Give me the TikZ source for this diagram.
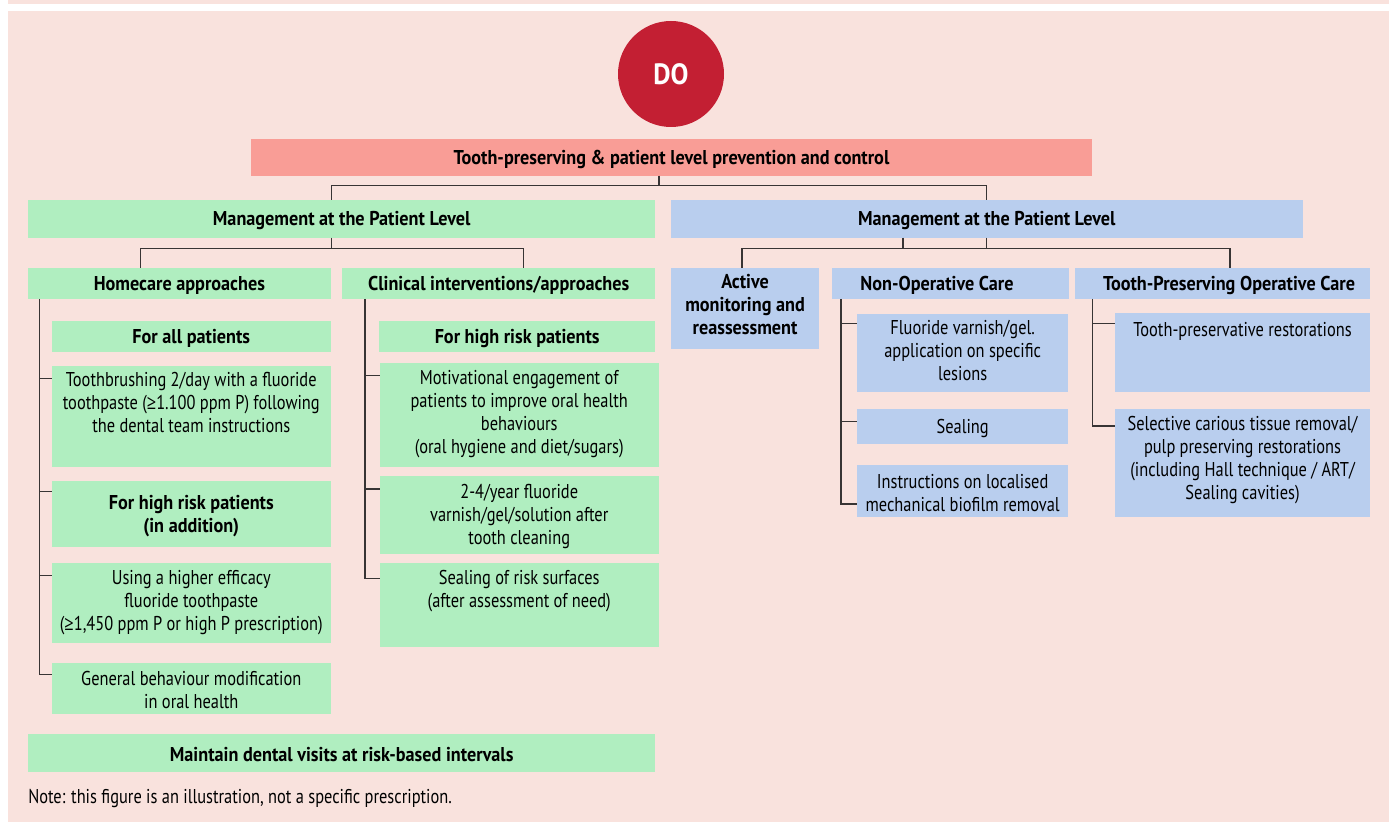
\documentclass[tikz,border=0pt]{standalone}
\usepackage{fontspec}
\setmainfont{PT Sans}[UprightFeatures={FakeStretch=0.82}, BoldFeatures={FakeStretch=0.91}]
\newfontfamily\symfont{Open Sans}[FakeStretch=0.82]
\newcommand{\GE}{{\symfont ≥}}
\usetikzlibrary{calc}
\definecolor{bgpink}{HTML}{F9E2DD}
\definecolor{barpink}{HTML}{F99D96}
\definecolor{dored}{HTML}{C31F33}
\definecolor{grn}{HTML}{B0EEC0}
\definecolor{blu}{HTML}{B9CEEE}
\definecolor{lncol}{HTML}{383434}
\tikzset{
  box/.style={draw=none, inner sep=0pt, outer sep=0pt, anchor=north west},
  gbox/.style={box, fill=grn},
  bbox/.style={box, fill=blu},
  txt/.style={font=\fontsize{15}{17.25}\selectfont, align=center, inner sep=0pt, text=black},
  btxt/.style={txt, font=\fontsize{15}{17.25}\selectfont\bfseries},
  ln/.style={draw=lncol, line width=1.1pt},
}
\newcommand{\bx}[6]{\node[#2, minimum width={(#5-#3)*0.75pt}, minimum height={(#6-#4)*0.75pt}] (#1) at (#3,#4) {};}
\newcommand{\toptxt}[3]{\node[#2, anchor=north, execute at begin node=\strut] (#1t) at ([yshift=-4.8pt]#1.north) {#3};}
\newcommand{\midtxt}[3]{\node[#2] (#1t) at ([yshift=-1.4pt]#1.center) {#3};}
\begin{document}
\begin{tikzpicture}[x=0.75pt, y=-0.75pt]
\useasboundingbox (0,0) rectangle (1389,823);
\fill[white] (0,0) rectangle (1389,823);
\fill[bgpink] (8,0) rectangle (1389,822.3);
\fill[white] (8,4.5) rectangle (1389,10.7);

% DO circle
\node[circle, fill=dored, minimum size={106*0.75pt}, inner sep=0pt, text=white, font=\fontsize{22}{26}\selectfont\bfseries] (do) at (671,74) {DO};

% top bar
\node[box, fill=barpink, minimum width={(1092-251)*0.75pt}, minimum height={(175.7-139)*0.75pt}] (tp) at (251,139) {};
\midtxt{tp}{btxt}{Tooth-preserving \& patient level prevention and control}

% management boxes
\bx{mgG}{gbox}{28}{200}{655.4}{237.7}
\midtxt{mgG}{btxt}{Management at the Patient Level}
\bx{mgB}{bbox}{671}{200}{1302.6}{237.7}
\midtxt{mgB}{btxt}{Management at the Patient Level}

% green level 2
\bx{hc}{gbox}{28}{267.7}{330.8}{299}
\midtxt{hc}{btxt}{Homecare approaches}
\bx{cl}{gbox}{342}{267.7}{655.4}{299}
\midtxt{cl}{btxt}{Clinical interventions/approaches}

% homecare column
\bx{fa}{gbox}{51.8}{321}{330.8}{351.7}
\midtxt{fa}{btxt}{For all patients}
\bx{tb}{gbox}{51.8}{366}{330.8}{466.7}
\toptxt{tb}{txt}{Toothbrushing 2/day with a fluoride\\toothpaste (\GE1.100 ppm P) following\\the dental team instructions}
\bx{hr}{gbox}{51.8}{481}{330.8}{546.7}
\midtxt{hr}{btxt}{For high risk patients\\(in addition)}
\bx{ue}{gbox}{51.8}{563.3}{330.8}{643.3}
\toptxt{ue}{txt}{Using a higher efficacy\\fluoride toothpaste\\(\GE1,450 ppm P or high P prescription)}
\bx{gb}{gbox}{51.8}{663.3}{330.8}{713.7}
\midtxt{gb}{txt}{General behaviour modification\\in oral health}

% clinical column
\bx{fh}{gbox}{379}{321}{655.4}{351.7}
\midtxt{fh}{btxt}{For high risk patients}
\bx{mo}{gbox}{380}{363.3}{658.5}{466.7}
\toptxt{mo}{txt}{Motivational engagement of\\patients to improve oral health\\behaviours\\(oral hygiene and diet/sugars)}
\bx{fv}{gbox}{380}{476}{658.5}{553.7}
\midtxt{fv}{txt}{2-4/year fluoride\\varnish/gel/solution after\\tooth cleaning}
\bx{sr}{gbox}{380}{563.3}{658.5}{646.7}
\toptxt{sr}{txt}{Sealing of risk surfaces\\(after assessment of need)}

% maintain
\bx{md}{gbox}{28}{734}{655.4}{771.7}
\midtxt{md}{btxt}{Maintain dental visits at risk-based intervals}

% blue level 2
\bx{am}{bbox}{671.2}{268}{819}{348.7}
\toptxt{am}{btxt}{Active\\monitoring and\\reassessment}
\bx{no}{bbox}{832}{268}{1068.6}{299}
\node[btxt] (not) at ([xshift=-10pt, yshift=-1.4pt]no.center) {Non-Operative Care};
\bx{op}{bbox}{1075}{268}{1369.7}{299}
\node[btxt] (opt) at ([xshift=5pt, yshift=-1.4pt]op.center) {Tooth-Preserving Operative Care};

% non-operative column
\bx{fl}{bbox}{857.3}{314}{1068}{391.7}
\toptxt{fl}{txt}{Fluoride varnish/gel.\\application on specific\\lesions}
\bx{se}{bbox}{857.3}{409.3}{1068}{443.7}
\midtxt{se}{txt}{Sealing}
\bx{in}{bbox}{857.3}{465}{1068}{516.7}
\midtxt{in}{txt}{Instructions on localised\\mechanical biofilm removal}

% operative column
\bx{tr}{bbox}{1115.4}{313.3}{1369.7}{391.7}
\toptxt{tr}{txt}{Tooth-preservative restorations}
\bx{sc}{bbox}{1115.4}{409.3}{1369.7}{516.7}
\toptxt{sc}{txt}{Selective carious tissue removal/\\pulp preserving restorations\\(including Hall technique / ART/\\Sealing cavities)}

% note
\node[txt, anchor=base west, font=\fontsize{15}{17}\selectfont] (note) at (28,803.3) {Note: this figure is an illustration, not a specific prescription.};

% ---- connectors ----
\coordinate (s1) at (659,185.7);
\coordinate (a1) at (331.7,185.7);
\coordinate (a2) at (986.4,185.7);
\draw[ln] (s1 |- tp.south) -- (s1);
\draw[ln] (a1 |- mgG.north) -- (a1) -- (a2) -- (a2 |- mgB.north);

\coordinate (b0) at (331.7,248.7);
\coordinate (b1) at (140.6,248.7);
\coordinate (b2) at (523.7,248.7);
\draw[ln] (b0 |- mgG.south) -- (b0);
\draw[ln] (b1 |- hc.north) -- (b1) -- (b2) -- (b2 |- cl.north);

\coordinate (c0) at (903,248.7);
\coordinate (c3) at (986.4,248.7);
\coordinate (c1) at (742,248.7);
\coordinate (c2) at (1230,248.7);
\draw[ln] (c0 |- mgB.south) -- (c0);
\draw[ln] (c3 |- mgB.south) -- (c3);
\draw[ln] (c1 |- am.north) -- (c1) -- (c2) -- (c2 |- op.north);

% homecare bracket
\coordinate (hl) at (39.3,0);
\coordinate (tbK) at ($(tb.north west)+(0,12.7)$);
\coordinate (hrK) at ($(hr.north west)+(0,10.7)$);
\coordinate (ueK) at ($(ue.north west)+(0,12.4)$);
\coordinate (gbK) at ($(gb.north west)+(0,11)$);
\draw[ln] (hl |- hc.south) -- (hl |- gbK) -- (gbK);
\foreach \k in {tbK,hrK,ueK} \draw[ln] (hl |- \k) -- (\k);

% clinical bracket
\coordinate (cx) at (365.2,0);
\coordinate (moK) at ($(mo.north west)+(0,12.4)$);
\coordinate (fvK) at ($(fv.north west)+(0,13)$);
\coordinate (srK) at ($(sr.north west)+(0,15)$);
\draw[ln] (cx |- cl.south) -- (cx |- srK) -- (srK);
\foreach \k in {moK,fvK} \draw[ln] (cx |- \k) -- (\k);

% non-operative bracket
\coordinate (nx) at (841,0);
\coordinate (flK) at ($(fl.north west)+(0,9.7)$);
\coordinate (seK) at ($(se.north west)+(0,12.4)$);
\coordinate (inK) at ($(in.north west)+(0,39)$);
\draw[ln] (nx |- no.south) -- (nx |- inK) -- (inK);
\foreach \k in {flK,seK} \draw[ln] (nx |- \k) -- (\k);

% operative bracket
\coordinate (ox) at (1092.4,0);
\coordinate (trK) at ($(tr.north west)+(0,10.4)$);
\coordinate (scK) at ($(sc.north west)+(0,16.7)$);
\draw[ln] (ox |- op.south) -- (ox |- scK) -- (scK);
\draw[ln] (ox |- trK) -- (trK);
\end{tikzpicture}
\end{document}
